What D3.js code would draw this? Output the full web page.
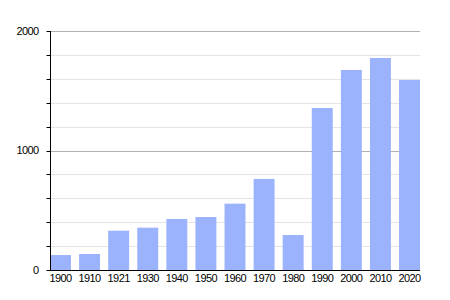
<!DOCTYPE html>
<html>
<head>
<meta charset="utf-8">
<script src="https://cdn.jsdelivr.net/npm/d3@7"></script>
<style>
  body { margin: 0; background: #fff; }
  svg { display: block; font-family: "Liberation Sans", Arial, sans-serif; }
</style>
</head>
<body>
<div id="chart"></div>
<script>
const years = ['1900', '1910', '1921', '1930', '1940', '1950', '1960', '1970', '1980', '1990', '2000', '2010', '2020'];
const population = [125, 134, 329, 354, 427, 443, 555, 762, 293, 1356, 1674, 1774, 1590];
const majorTicks = [0, 1000, 2000];
const minorTicks = [200, 400, 600, 800, 1200, 1400, 1600, 1800];

const width = 450, height = 300;
const margin = { top: 31, right: 30, bottom: 30, left: 50 };

const svg = d3.select('#chart').append('svg')
  .attr('width', width)
  .attr('height', height);

const x = d3.scaleBand()
  .domain(years)
  .range([margin.left, width - margin.right])
  .paddingInner(0.28)
  .paddingOuter(0);

const y = d3.scaleLinear()
  .domain([0, 2000])
  .range([height - margin.bottom, margin.top]);

// grid lines
svg.append('g')
  .selectAll('line')
  .data(minorTicks)
  .join('line')
  .attr('x1', margin.left)
  .attr('x2', width - margin.right)
  .attr('y1', d => Math.round(y(d)) + 0.5)
  .attr('y2', d => Math.round(y(d)) + 0.5)
  .attr('stroke', '#e4e4e4');

svg.append('g')
  .selectAll('line')
  .data(majorTicks.filter(d => d > 0))
  .join('line')
  .attr('x1', margin.left)
  .attr('x2', width - margin.right)
  .attr('y1', d => Math.round(y(d)) + 0.5)
  .attr('y2', d => Math.round(y(d)) + 0.5)
  .attr('stroke', '#b0b0b0');

// bars
svg.append('g')
  .selectAll('rect')
  .data(population)
  .join('rect')
  .attr('x', (d, i) => x(years[i]))
  .attr('width', x.bandwidth())
  .attr('y', d => y(d))
  .attr('height', d => y(0) - y(d))
  .attr('fill', '#9bb2fc');

// y axis
const yAxis = svg.append('g')
  .attr('transform', `translate(${margin.left + 0.5},0)`);

yAxis.append('line')
  .attr('y1', y(2000))
  .attr('y2', y(0))
  .attr('stroke', '#000');

yAxis.selectAll('.tick')
  .data(majorTicks.concat(minorTicks))
  .join('line')
  .attr('x1', -4)
  .attr('x2', 0)
  .attr('y1', d => Math.round(y(d)) + 0.5)
  .attr('y2', d => Math.round(y(d)) + 0.5)
  .attr('stroke', '#000');

yAxis.selectAll('text')
  .data(majorTicks)
  .join('text')
  .attr('x', -12)
  .attr('y', d => y(d))
  .attr('dy', '0.35em')
  .attr('text-anchor', 'end')
  .attr('font-size', 11)
  .attr('letter-spacing', -0.6)
  .text(d => d);

// x axis
svg.append('line')
  .attr('x1', margin.left)
  .attr('x2', width - margin.right)
  .attr('y1', y(0) + 0.5)
  .attr('y2', y(0) + 0.5)
  .attr('stroke', '#000');

svg.append('g')
  .selectAll('text')
  .data(years)
  .join('text')
  .attr('x', d => x(d) + x.bandwidth() / 2)
  .attr('y', y(0) + 12)
  .attr('text-anchor', 'middle')
  .attr('font-size', 11)
  .attr('letter-spacing', -0.6)
  .text(d => d);
</script>
</body>
</html>
